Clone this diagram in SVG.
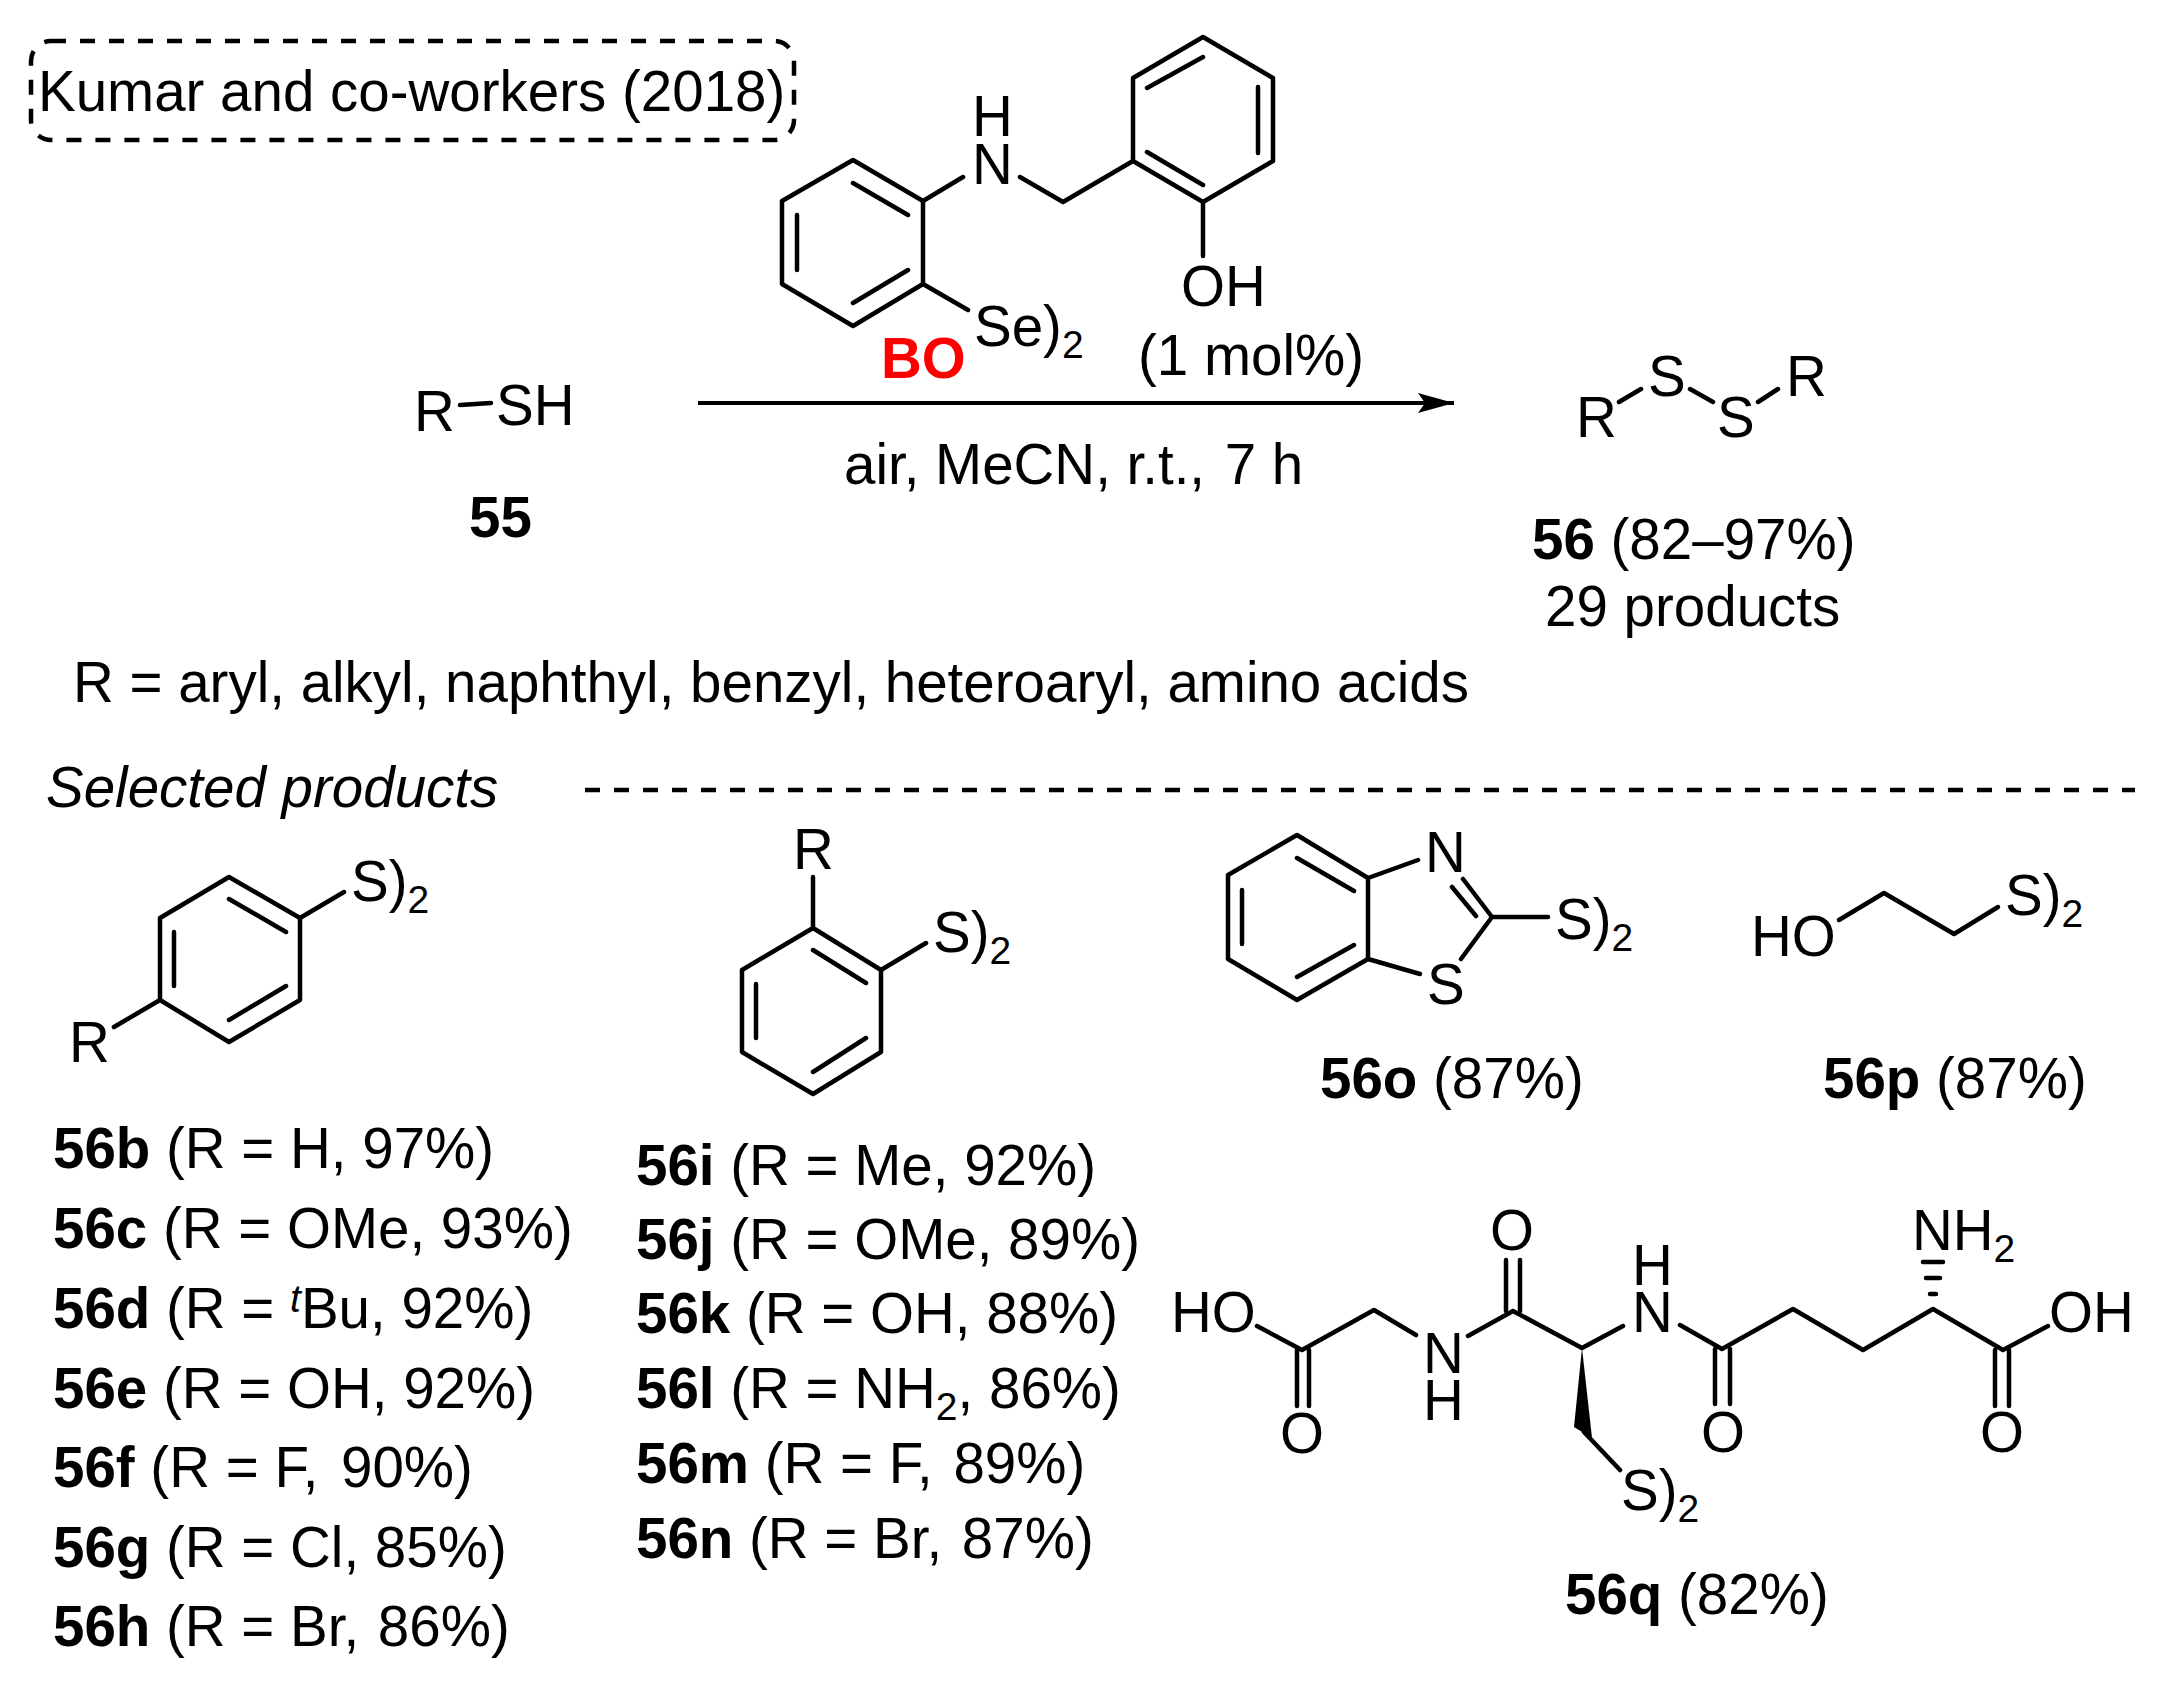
<svg xmlns="http://www.w3.org/2000/svg" width="2173" height="1684" viewBox="0 0 2173 1684">
<style>
text{font-family:"Liberation Sans",Arial,sans-serif;font-size:56.5px;fill:#000}
.b{font-weight:700}
.s{font-size:39px}
.i{font-style:italic}
.l{fill:none;stroke:#000;stroke-width:4.5;stroke-linecap:round;stroke-linejoin:round}
.d{fill:none;stroke:#000;stroke-width:4.5;stroke-dasharray:15 14}
</style>
<defs><marker id="ah" markerUnits="userSpaceOnUse" markerWidth="38" markerHeight="24" refX="36" refY="12" orient="auto"><path d="M0 2L36 12L0 22L7 12Z"/></marker></defs>
<rect width="2173" height="1684" fill="#fff"/>
<g id="title"><rect x="31" y="41" width="763" height="99" rx="20" class="d"/><text x="38" y="111">Kumar and co-workers (2018)</text></g>
<g id="catalyst">
<path class="l" d="M853 160L923 201V284L853 326L782 284V201ZM853 183L908 215M797 215V270M853 303L908 270"/>
<path class="l" d="M923 201L963 177M1020 177L1063 202L1133 161M1133 78L1203 37L1273 78V161L1203 202L1133 161V78ZM1147 88L1203 57M1258 87V153M1147 152L1203 185M1203 202V256M923 284L968 310"/>
<text x="972" y="136">H</text><text x="972" y="184">N</text><text x="1181" y="306">OH</text>
<text x="974" y="346">Se)<tspan class="s" dy="12">2</tspan></text>
<text x="881" y="378" class="b" style="fill:#f00">BO</text>
<text x="1138" y="375">(1 mol%)</text>
</g>
<g id="reaction">
<path d="M698 403H1454" fill="none" stroke="#000" stroke-width="4" marker-end="url(#ah)"/>
<text x="844" y="484">air, MeCN, r.t.,<tspan dx="4"> 7 h</tspan></text>
</g>
<g id="substrate-55">
<text x="414" y="431">R</text><path class="l" d="M460 405L491 403"/><text x="496" y="425">SH</text>
<text x="469" y="537" class="b">55</text>
</g>
<g id="product-56">
<path class="l" d="M1619 402L1641 389M1690 389L1713 402M1758 402L1778 389"/>
<text x="1576" y="437">R</text><text x="1648" y="396">S</text><text x="1717" y="437">S</text><text x="1786" y="396">R</text>
<text x="1532" y="559"><tspan class="b">56</tspan> (82–97%)</text>
<text x="1545" y="626">29 products</text>
</g>
<text x="73" y="702">R = aryl, alkyl, naphthyl, benzyl, heteroaryl, amino acids</text>
<text x="46" y="807" class="i">Selected products</text>
<path class="d" d="M585 790H2135"/>
<g id="para">
<path class="l" d="M229 877L300 918V1000L229 1042L160 1000V918ZM229 899L286 932M174 932V986M229 1020L286 986M300 918L344 892M160 1000L114 1027"/>
<text x="351" y="901">S)<tspan class="s" dy="12">2</tspan></text><text x="69" y="1062">R</text>
<text x="53" y="1168"><tspan class="b">56b</tspan> (R = H, 97%)</text>
<text x="53" y="1248"><tspan class="b">56c</tspan> (R = OMe, 93%)</text>
<text x="53" y="1328"><tspan class="b">56d</tspan> (R = <tspan class="i s" dy="-16">t</tspan><tspan dy="16">Bu, 92%)</tspan></text>
<text x="53" y="1408"><tspan class="b">56e</tspan> (R = OH, 92%)</text>
<text x="53" y="1487"><tspan class="b">56f</tspan> (R = F,<tspan dx="7"> 90%)</tspan></text>
<text x="53" y="1567"><tspan class="b">56g</tspan> (R = Cl, 85%)</text>
<text x="53" y="1646"><tspan class="b">56h</tspan> (R = Br,<tspan dx="3"> 86%)</tspan></text>
</g>
<g id="ortho">
<path class="l" d="M813 928L881 970V1052L813 1094L742 1052V970ZM813 950L866 983M756 984V1038M813 1072L866 1038M813 928V877M881 970L926 943"/>
<text x="793" y="869">R</text><text x="933" y="952">S)<tspan class="s" dy="12">2</tspan></text>
<text x="636" y="1185"><tspan class="b">56i</tspan> (R = Me, 92%)</text>
<text x="636" y="1259"><tspan class="b">56j</tspan> (R = OMe, 89%)</text>
<text x="636" y="1333"><tspan class="b">56k</tspan> (R = OH, 88%)</text>
<text x="636" y="1408"><tspan class="b">56l</tspan> (R = NH<tspan class="s" dy="12">2</tspan><tspan dy="-12">, 86%)</tspan></text>
<text x="636" y="1483"><tspan class="b">56m</tspan> (R = F,<tspan dx="5"> 89%)</tspan></text>
<text x="636" y="1558"><tspan class="b">56n</tspan> (R = Br,<tspan dx="4"> 87%)</tspan></text>
</g>
<g id="p56o">
<path class="l" d="M1297 835L1368 878V959L1297 1000L1228 959V875ZM1297 858L1354 891M1242 890V944M1297 977L1354 945M1368 878L1418 860M1463 879L1492 917L1461 959M1452 887L1476 916M1368 959L1420 974M1492 917H1548"/>
<text x="1425" y="872">N</text><text x="1427" y="1004">S</text><text x="1555" y="939">S)<tspan class="s" dy="12">2</tspan></text>
<text x="1320" y="1098"><tspan class="b">56o</tspan> (87%)</text>
</g>
<g id="p56p">
<path class="l" d="M1839 920L1884 893L1954 934L1998 907"/>
<text x="1751" y="956">HO</text><text x="2005" y="915">S)<tspan class="s" dy="12">2</tspan></text>
<text x="1823" y="1098"><tspan class="b">56p</tspan> (87%)</text>
</g>
<g id="p56q">
<path class="l" d="M1257 1326L1302 1350L1374 1310L1416 1335M1297 1350V1406M1309 1350V1406M1468 1336L1513 1311L1582 1348L1623 1326M1506 1311V1260M1520 1311V1260M1680 1325L1722 1349L1793 1309L1863 1350L1933 1309L2003 1350L2048 1326M1715 1349V1404M1730 1349V1404M1995 1350V1406M2009 1350V1406M1584 1432L1620 1470"/>
<path d="M1582 1348L1592 1438L1574 1427Z"/>
<path class="l" d="M1930 1294H1936M1926 1278H1940M1923 1262H1943"/>
<text x="1171" y="1332">HO</text><text x="1280" y="1453">O</text><text x="1423" y="1373">N</text><text x="1423" y="1420">H</text>
<text x="1490" y="1250">O</text><text x="1632" y="1285">H</text><text x="1632" y="1332">N</text><text x="1701" y="1452">O</text>
<text x="1912" y="1250">NH<tspan class="s" dy="12">2</tspan></text><text x="2049" y="1332">OH</text><text x="1980" y="1452">O</text>
<text x="1621" y="1510">S)<tspan class="s" dy="12">2</tspan></text>
<text x="1565" y="1614"><tspan class="b">56q</tspan> (82%)</text>
</g>
</svg>
